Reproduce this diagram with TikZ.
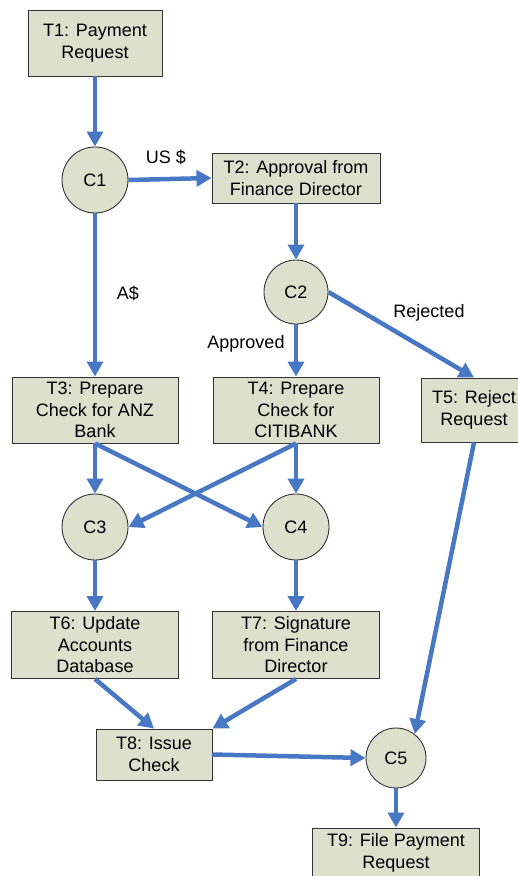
\documentclass[tikz,border=0pt]{standalone}
\usepackage{fontspec}
\setmainfont{Liberation Sans}
\usetikzlibrary{arrows.meta,positioning}

\definecolor{taskfill}{RGB}{221,224,204}
\definecolor{flowblue}{RGB}{72,120,196}

\tikzset{
  task/.style={draw=black!80, fill=taskfill, line width=0.9pt, align=center,
    inner sep=2pt, font=\fontsize{18}{21.5}\selectfont},
  cond/.style={draw=black!80, fill=taskfill, line width=0.9pt, circle,
    inner sep=0pt, minimum size=66pt, font=\fontsize{18}{21.5}\selectfont},
  flow/.style={draw=flowblue, line width=4.5pt,
    -{Triangle[length=15pt,width=16pt]}},
  flowlabel/.style={font=\fontsize{18}{21.5}\selectfont, inner sep=0pt}
}

\begin{document}
\begin{tikzpicture}[x=1pt,y=-1pt]
\useasboundingbox (0,0) rectangle (518,876);

\node[task, minimum width=134pt, minimum height=66pt] (t1) at (95,43) {T1: Payment\\Request};
\node[cond] (c1) at (95,180) {C1};
\node[task, minimum width=168pt, minimum height=50pt] (t2) at (296,178) {T2: Approval from\\Finance Director};
\node[cond, minimum size=64pt] (c2) at (296,292) {C2};
\node[task, minimum width=166pt, minimum height=66pt] (t3) at (95,410) {T3: Prepare\\Check for ANZ\\Bank};
\node[task, minimum width=166pt, minimum height=66pt] (t4) at (296,410) {T4: Prepare\\Check for\\CITIBANK};
\node[task, minimum width=106pt, minimum height=64pt] (t5) at (474,410) {T5: Reject\\Request};
\node[cond] (c3) at (95,527) {C3};
\node[cond] (c4) at (296,527) {C4};
\node[task, minimum width=167pt, minimum height=67pt] (t6) at (95,645) {T6: Update\\Accounts\\Database};
\node[task, minimum width=167pt, minimum height=67pt] (t7) at (296,645) {T7: Signature\\from Finance\\Director};
\node[task, minimum width=116pt, minimum height=51pt] (t8) at (154,754.5) {T8: Issue\\Check};
\node[cond, minimum size=60pt] (c5) at (396,758) {C5};
\node[task, minimum width=167pt, minimum height=50pt] (t9) at (396,853) {T9: File Payment\\Request};

% condition labels
\node[flowlabel] (lus) at (166,157) {US \$};
\node[flowlabel] (laud) at (128,293) {A\$};
\node[flowlabel] (lapp) at (246,344) {Approved};
\node[flowlabel] (lrej) at (429,313) {Rejected};

\draw[flow] (t1) -- (c1);
\draw[flow] (c1.east) -- (t2.west);
\draw[flow] (c1) -- (t3);
\draw[flow] (t2) -- (c2);
\draw[flow] (c2) -- (t4);
\draw[flow] (c2.east) -- (t5.north);
\draw[flow] (t3) -- (c3);
\draw[flow] (t3.south) -- (c4.west);
\draw[flow] (t4) -- (c4);
\draw[flow] (t4.south) -- (c3.east);
\draw[flow] (c3) -- (t6);
\draw[flow] (c4) -- (t7);
\draw[flow] (t6.south) -- (t8.north);
\draw[flow] (t7.south) -- (t8.north east);
\draw[flow] (t8.east) -- (c5.west);
\draw[flow] (t5.south) -- (c5.52);
\draw[flow] (c5) -- (t9);
\end{tikzpicture}
\end{document}
